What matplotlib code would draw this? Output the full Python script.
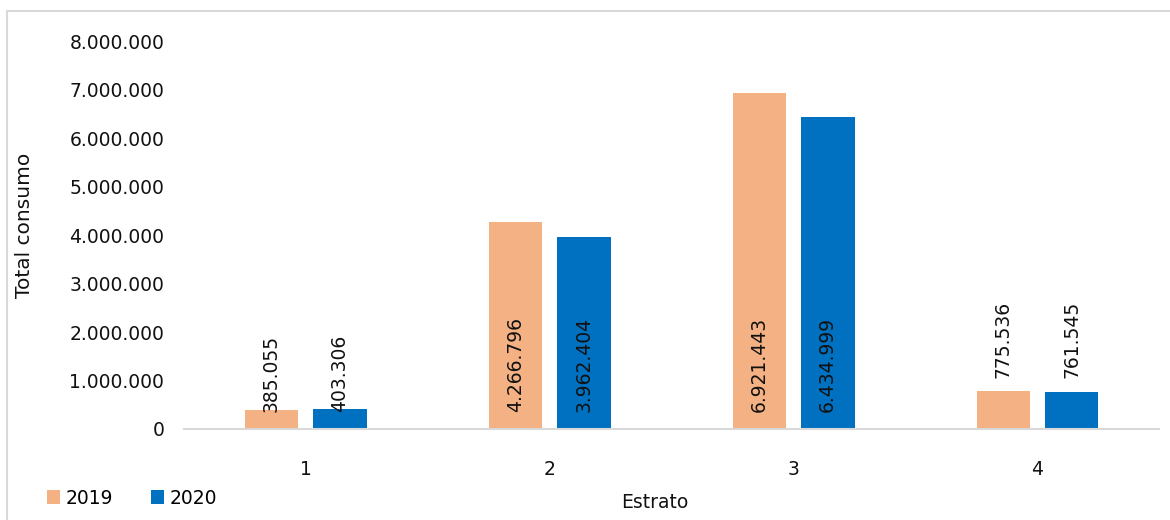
import matplotlib
matplotlib.use("Agg")
from matplotlib import pyplot as plt
from matplotlib.patches import Rectangle
import numpy as np

# datos
estratos = ['1', '2', '3', '4']
consumo_2019 = [385055, 4266796, 6921443, 775536]
consumo_2020 = [403306, 3962404, 6434999, 761545]
# where excel put each data label
label_pos = ['base', 'base', 'base', 'end']

c2019 = '#F4B183'
c2020 = '#0070C0'
fs = 13.5

plt.rcParams['font.family'] = ['DejaVu Sans']

def fmt(v):
    return '{:,}'.format(int(v)).replace(',', '.')

fig = plt.figure(figsize=(11.7, 5.2), dpi=100)
ax = fig.add_axes([0.157, 0.175, 0.834, 0.746])

# outer chart frame
fig.patches.append(Rectangle((7/1170, -0.1), 1.2, 1 - 11/520 + 0.1, transform=fig.transFigure,
                             fill=False, edgecolor='#D9D9D9', linewidth=1.5))

x = np.arange(len(estratos))
w = 0.22
b1 = ax.bar(x - 0.14, consumo_2019, w, color=c2019, label='2019')
b2 = ax.bar(x + 0.14, consumo_2020, w, color=c2020, label='2020')

for bars, vals in [(b1, consumo_2019), (b2, consumo_2020)]:
    for rect, v, pos in zip(bars, vals, label_pos):
        cx = rect.get_x() + rect.get_width() / 2
        if pos == 'base':
            ax.annotate(fmt(v), (cx, 0), xytext=(0, 12), textcoords='offset points',
                        rotation=90, ha='center', va='bottom', fontsize=fs, color='#111111')
        else:
            ax.annotate(fmt(v), (cx, v), xytext=(0, 10), textcoords='offset points',
                        rotation=90, ha='center', va='bottom', fontsize=fs, color='#111111')

ax.set_ylim(0, 8000000)
ax.set_xlim(-0.5, len(estratos) - 0.5)
ax.set_yticks(np.arange(0, 8000001, 1000000))
ax.set_yticklabels([fmt(t) for t in np.arange(0, 8000001, 1000000)])
ax.set_xticks(x)
ax.set_xticklabels(estratos)
ax.tick_params(axis='y', length=0, pad=14, labelsize=fs, labelcolor='#111111')
ax.tick_params(axis='x', length=0, pad=22, labelsize=fs, labelcolor='#111111')

for s in ['top', 'right', 'left']:
    ax.spines[s].set_visible(False)
ax.spines['bottom'].set_color('#D9D9D9')
ax.spines['bottom'].set_linewidth(1.5)

fig.text(25/1170, 1 - 225/520, 'Total consumo', rotation=90, ha='center', va='center',
         fontsize=14.5, color='#111111')
fig.text(655/1170, 1 - 503/520, 'Estrato', ha='center', va='center', fontsize=fs, color='#111111')

fig.legend(loc='center left', bbox_to_anchor=(30/1170, 1 - 498/520), ncol=2, frameon=False,
           fontsize=fs, handlelength=0.7, handleheight=0.7, handletextpad=0.3, columnspacing=2.0)

fig.savefig('out.png', dpi=100)
